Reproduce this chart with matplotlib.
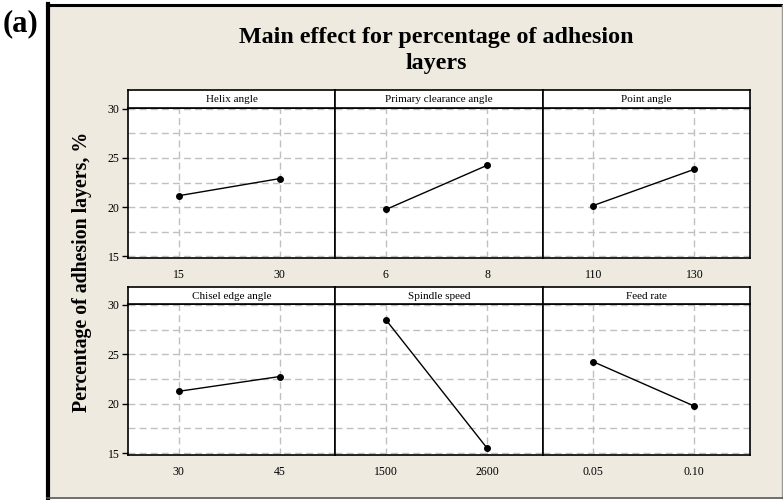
import matplotlib
matplotlib.use("Agg")
import matplotlib.pyplot as plt
from matplotlib.patches import Rectangle
from matplotlib.lines import Line2D

plt.rcParams['font.family'] = ['Liberation Serif', 'DejaVu Serif']

factors = ["Helix angle", "Primary clearance angle", "Point angle",
           "Chisel edge angle", "Spindle speed", "Feed rate"]
level_labels = [["15", "30"], ["6", "8"], ["110", "130"],
                ["30", "45"], ["1500", "2600"], ["0.05", "0.10"]]
means = [[21.15, 22.9], [19.75, 24.25], [20.15, 23.85],
         [21.25, 22.75], [28.5, 15.5], [24.25, 19.75]]
y_ticks = [15, 20, 25, 30]
y_grid = [15, 17.5, 20, 22.5, 25, 27.5, 30]
title_lines = ["Main effect for percentage of adhesion", "layers"]
ylabel = "Percentage of adhesion layers, %"

W, H = 783, 500
bg = "#EEEAE0"
fig = plt.figure(figsize=(W / 100, H / 100), dpi=100, facecolor="white")

def fx(x):
    return x / W

def fy(y):
    return 1 - y / H

# beige panel with frame
fig.patches.append(Rectangle((fx(48), fy(497)), fx(782) - fx(48), fy(5) - fy(497),
                             transform=fig.transFigure, facecolor=bg,
                             edgecolor="none", zorder=-5))
fig.lines.append(Line2D([fx(48), fx(48)], [fy(498), fy(4)], transform=fig.transFigure,
                        color="black", lw=3.0))
fig.lines.append(Line2D([fx(47), fx(783)], [fy(5), fy(5)], transform=fig.transFigure,
                        color="black", lw=2.2))
fig.lines.append(Line2D([fx(782), fx(782)], [fy(5), fy(498)], transform=fig.transFigure,
                        color="#999999", lw=1.0))
fig.lines.append(Line2D([fx(47), fx(783)], [fy(498), fy(498)], transform=fig.transFigure,
                        color="#555555", lw=1.2))

fig.text(fx(3), fy(31), "(a)", fontsize=22, fontweight="bold", ha="left", va="baseline")
fig.text(fx(436), fy(43), title_lines[0], fontsize=17.3, fontweight="bold",
         ha="center", va="baseline")
fig.text(fx(436), fy(69), title_lines[1], fontsize=17.3, fontweight="bold",
         ha="center", va="baseline")
fig.text(fx(82), fy(272), ylabel, fontsize=14.3, fontweight="bold", rotation=90,
         ha="center", va="center")

left, right = 128, 750
pw = (right - left) / 3
rows = [(90, 108, 258), (287, 304, 455)]

for i, name in enumerate(factors):
    r, c = divmod(i, 3)
    st, pt, pb = rows[r]
    x0 = left + c * pw
    ax = fig.add_axes([fx(x0), fy(pb), pw / W, (pb - pt) / H])
    sax = fig.add_axes([fx(x0), fy(pt), pw / W, (pt - st) / H])
    sax.set_facecolor("white")
    sax.set_xticks([]); sax.set_yticks([])
    for s in sax.spines.values():
        s.set_linewidth(1.2)
    sax.text(0.5, 0.45, name, fontsize=8, ha="center", va="center", transform=sax.transAxes)

    ax.set_facecolor("white")
    ax.set_xlim(0.5, 2.55)
    ax.set_ylim(14.8, 30.1)
    for g in y_grid:
        ax.axhline(g, color="#C0C0C0", lw=1.0, ls=(0, (5, 3)), zorder=1)
    for xg in [1, 2]:
        ax.axvline(xg, color="#C0C0C0", lw=1.0, ls=(0, (5, 3)), zorder=1)
    ax.plot([1, 2], means[i], color="black", lw=1.0, marker="o", ms=4, zorder=3)
    ax.set_xticks([1, 2])
    ax.set_xticklabels(level_labels[i], fontsize=8.5)
    ax.tick_params(axis="x", length=0, pad=8)
    if c == 0:
        ax.set_yticks(y_ticks)
        ax.set_yticklabels([str(t) for t in y_ticks], fontsize=8.5)
        ax.tick_params(axis="y", length=4, width=1, direction="out", pad=2)
    else:
        ax.set_yticks([])
    for s in ax.spines.values():
        s.set_linewidth(1.2)

fig.savefig("out.png", dpi=100, facecolor=fig.get_facecolor())
